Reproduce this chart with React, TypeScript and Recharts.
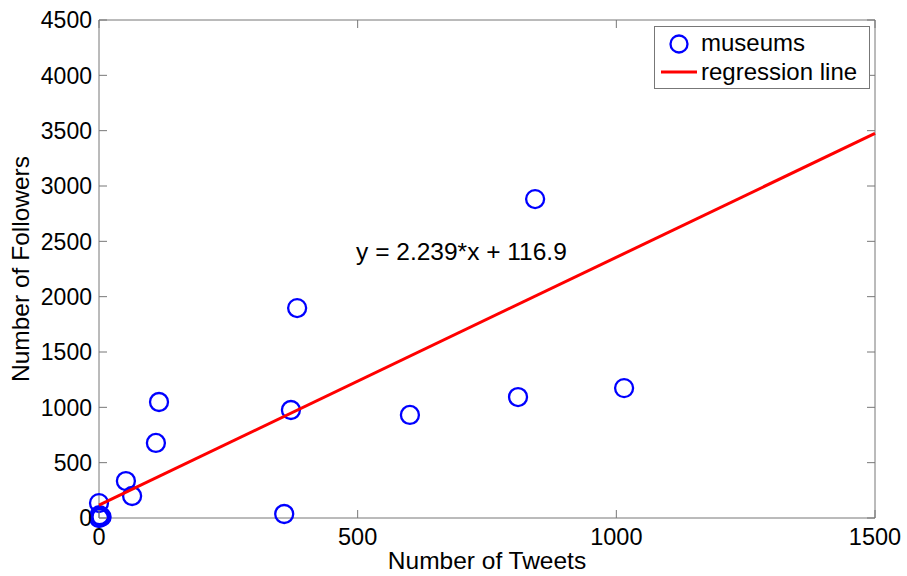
import React from "react";
import { ComposedChart, Scatter, XAxis, YAxis, ReferenceLine, ReferenceDot } from "recharts";

// museums: tweets vs followers
const tweets = [0, 2, 5, 1, 0, 52, 64, 110, 116, 383, 371, 358, 601, 810, 843, 1015];
const followers = [0, 15, 10, 25, 135, 334, 199, 678, 1048, 1897, 976, 36, 931, 1093, 2882, 1174];

// regression line end points (y = 2.239*x + 116.9)
const regX = [0, 1500];
const regY = [116.9, 3475.4];

const xTicks = [0, 500, 1000, 1500];
const yTicks = [0, 500, 1000, 1500, 2000, 2500, 3000, 3500, 4000, 4500];

const annotText = "y = 2.239*x + 116.9";
const annotX = 497;
const annotY = 2331;

const W = 907;
const H = 576;
const M = { top: 20, right: 32, bottom: 0, left: 0 };
const Y_AXIS_W = 99;
const X_AXIS_H = 58;
const PLOT_W = W - M.left - M.right - Y_AXIS_W;
const PLOT_H = H - M.top - M.bottom - X_AXIS_H;

const FONT = "'Liberation Sans', Arial, sans-serif";
const AXIS = "#777777";
const TICK = 8;

const points = tweets.map((x, i) => ({ x, y: followers[i] }));
const regData = regX.map((x, i) => ({ x, y: regY[i] }));

const YTick = (p: any) => (
    <g>
        <line x1={p.x} x2={p.x + TICK} y1={p.y} y2={p.y} stroke={AXIS} />
        <line x1={p.x + PLOT_W - TICK} x2={p.x + PLOT_W} y1={p.y} y2={p.y} stroke={AXIS} />
        <text x={p.x - 7} y={p.y} dy="0.36em" textAnchor="end" fontSize={23} fill="#000" fontFamily={FONT}>
            {p.payload.value}
        </text>
    </g>
);

const XTick = (p: any) => (
    <g>
        <line x1={p.x} x2={p.x} y1={p.y} y2={p.y - TICK} stroke={AXIS} />
        <line x1={p.x} x2={p.x} y1={p.y - PLOT_H} y2={p.y - PLOT_H + TICK} stroke={AXIS} />
        <text x={p.x} y={p.y + 27} textAnchor="middle" fontSize={23.5} fill="#000" fontFamily={FONT}>
            {p.payload.value}
        </text>
    </g>
);

const Ring = (p: any) => (
    <circle cx={p.cx} cy={p.cy} r={9} fill="none" stroke="#0000ff" strokeWidth={2.3} />
);

const LegendBox = () => (
    <svg
        width={216}
        height={63}
        style={{ position: "absolute", left: 654, top: 26, display: "block" }}
    >
        <rect x={0.5} y={0.5} width={215} height={62} fill="#fff" stroke={AXIS} />
        <circle cx={25} cy={18} r={8.5} fill="none" stroke="#0000ff" strokeWidth={2.3} />
        <text x={47} y={25} fontSize={24} fontFamily={FONT} fill="#000">museums</text>
        <line x1={7} x2={43} y1={46} y2={46} stroke="#ff0000" strokeWidth={3} />
        <text x={47} y={54} fontSize={24} fontFamily={FONT} fill="#000">regression line</text>
    </svg>
);

const YLabel = (props: any) => {
    const vb = props.viewBox;
    const cx = 29;
    const cy = vb.y + vb.height / 2;
    return (
        <text x={cx} y={cy} transform={`rotate(-90, ${cx}, ${cy})`} textAnchor="middle" fontSize={24.5} fontFamily={FONT} fill="#000">
            Number of Followers
        </text>
    );
};

const XLabel = (props: any) => {
    const vb = props.viewBox;
    return (
        <text x={vb.x + vb.width / 2} y={569} textAnchor="middle" fontSize={24.5} fontFamily={FONT} fill="#000">
            Number of Tweets
        </text>
    );
};

const App: React.FC = () => {
    return (
        <div style={{ position: "absolute", left: 0, top: 0, width: W, height: H, background: "#fff" }}>
            <ComposedChart width={W} height={H} margin={M}>
                <XAxis
                    type="number"
                    dataKey="x"
                    domain={[0, 1500]}
                    ticks={xTicks}
                    height={X_AXIS_H}
                    stroke={AXIS}
                    tickLine={false}
                    tickSize={0}
                    tickMargin={0}
                    tick={XTick}
                    interval={0}
                    label={{ content: XLabel }}
                />
                <YAxis
                    type="number"
                    dataKey="y"
                    domain={[0, 4500]}
                    ticks={yTicks}
                    width={Y_AXIS_W}
                    stroke={AXIS}
                    tickLine={false}
                    tickSize={0}
                    tickMargin={0}
                    tick={YTick}
                    interval={0}
                    label={{ content: YLabel }}
                />
                <ReferenceLine y={4500} stroke={AXIS} />
                <ReferenceLine x={1500} stroke={AXIS} />
                <Scatter name="museums" data={points} shape={Ring} isAnimationActive={false} />
                <Scatter
                    name="regression line"
                    data={regData}
                    line={{ stroke: "#ff0000", strokeWidth: 3 }}
                    shape={() => <g />}
                    isAnimationActive={false}
                />
                <ReferenceDot
                    x={annotX}
                    y={annotY}
                    r={0}
                    shape={(p: any) => (
                        <text x={p.cx} y={p.cy} fontSize={24.5} fontFamily={FONT} fill="#000">
                            {annotText}
                        </text>
                    )}
                />
            </ComposedChart>
            <LegendBox />
        </div>
    );
};

export default App;
